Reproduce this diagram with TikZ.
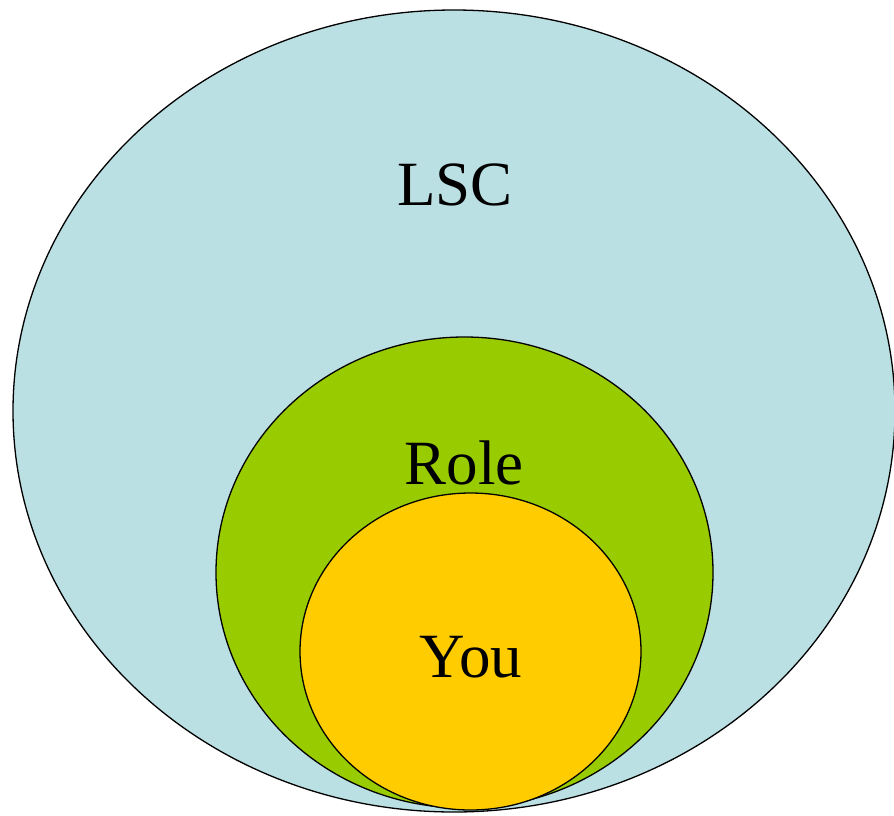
\documentclass[tikz,border=0pt]{standalone}
\usepackage{fontspec}
\setmainfont{Liberation Serif}
\definecolor{lscblue}{HTML}{BBE0E3}
\definecolor{rolegreen}{HTML}{99CC00}
\definecolor{youyellow}{HTML}{FFCC00}
\begin{document}
\begin{tikzpicture}[x=1pt,y=-1pt,
  ring/.style={draw=black,line width=1.3pt},
  lbl/.style={font=\fontsize{63}{63}\selectfont,anchor=base,inner sep=0pt}]
\useasboundingbox (0,0) rectangle (894,815);
% nested sets, outermost first
\path[ring,fill=lscblue] (454,411) ellipse [x radius=441,y radius=401];
\path[ring,fill=rolegreen] (464.5,572.5) ellipse [x radius=248.5,y radius=235.5];
\path[ring,fill=youyellow] (470.5,651.5) ellipse [x radius=170.5,y radius=158.5];
\node[lbl] (lsc) at (455,205) {LSC};
\node[lbl] (role) at (464,484) {Role};
\node[lbl] (you) at (471,677) {You};
\end{tikzpicture}
\end{document}
